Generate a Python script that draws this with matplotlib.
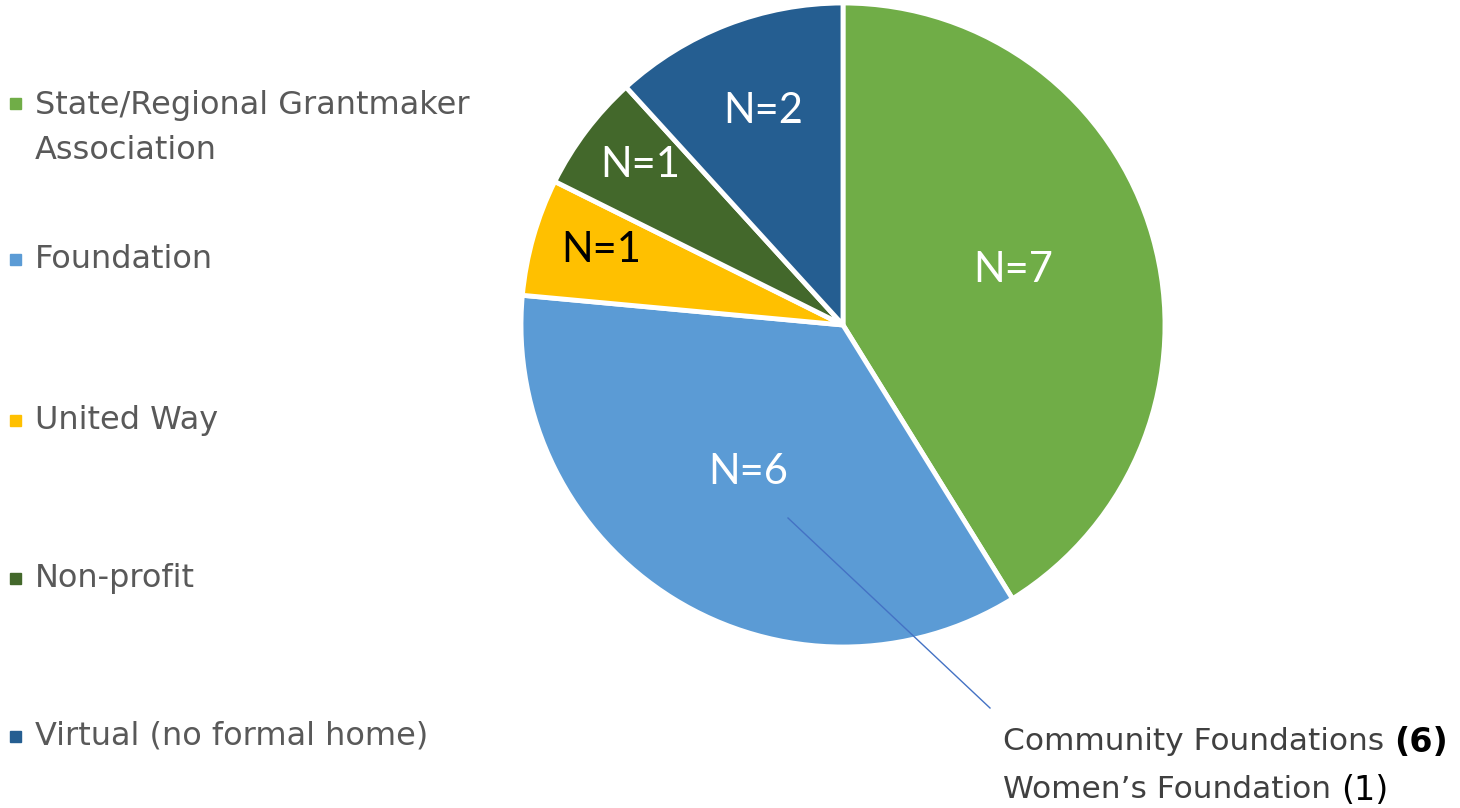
import matplotlib.pyplot as plt
from matplotlib.lines import Line2D
from matplotlib.patches import Rectangle
import numpy as np

plt.rcParams['font.family'] = ['DejaVu Sans']

categories = ['State/Regional Grantmaker\nAssociation', 'Foundation', 'United Way',
              'Non-profit', 'Virtual (no formal home)']
counts = [7, 6, 1, 1, 2]
slice_colors = ['#70AD47', '#5B9BD5', '#FFC000', '#43682B', '#255E91']
label_colors = ['white', 'white', 'black', 'white', 'white']
label_dist = [0.55, 0.56, 0.78, 0.79, 0.69]

W, H = 1460, 808
fig = plt.figure(figsize=(W / 100, H / 100), dpi=100)

# pie centre (843, 325) px, radius 322 px
cx, cy, r = 843, 325, 322
ax = fig.add_axes([(cx - r) / W, (H - cy - r) / H, 2 * r / W, 2 * r / H])
wedges, _ = ax.pie(counts, colors=slice_colors, startangle=90, counterclock=False,
                   radius=1, wedgeprops=dict(edgecolor='white', linewidth=3.5))
ax.set_xlim(-1, 1)
ax.set_ylim(-1, 1)
ax.set_aspect('equal')
ax.axis('off')

for w, n, c, d in zip(wedges, counts, label_colors, label_dist):
    mid = np.deg2rad((w.theta1 + w.theta2) / 2)
    ax.text(d * np.cos(mid), d * np.sin(mid) + 0.02, f'N={n}', color=c, fontsize=30,
            ha='center', va='center', family='Lato')

# legend on the left
leg_y = [103, 259, 420, 578, 736]
for lab, col, y in zip(categories, slice_colors, leg_y):
    fig.patches.append(Rectangle((10 / W, (H - y - 6) / H), 11 / W, 11 / H,
                                 transform=fig.transFigure, color=col))
    ty = y + 25 if '\n' in lab else y
    fig.text(35 / W, (H - ty) / H, lab, color='#595959', fontsize=23,
             va='center', linespacing=1.62, ha='left')

# leader line and callout
fig.add_artist(Line2D([788 / W, 990 / W], [(H - 518) / H, (H - 708) / H],
                      color='#4472C4', lw=1))
renderer = fig.canvas.get_renderer()
callout = [('Community Foundations', '(6)', 'bold', 742),
           ('Women\u2019s Foundation', '(1)', 'normal', 790)]
for txt, num, wt, y in callout:
    t = fig.text(1003 / W, (H - y) / H, txt, color='#404040', fontsize=22.5,
                 va='center')
    x1 = t.get_window_extent(renderer).x1
    fig.text((x1 + 10) / W, (H - y) / H, num, color='black', fontsize=24,
             va='center', fontweight=wt)

fig.savefig('out.png', dpi=100)
